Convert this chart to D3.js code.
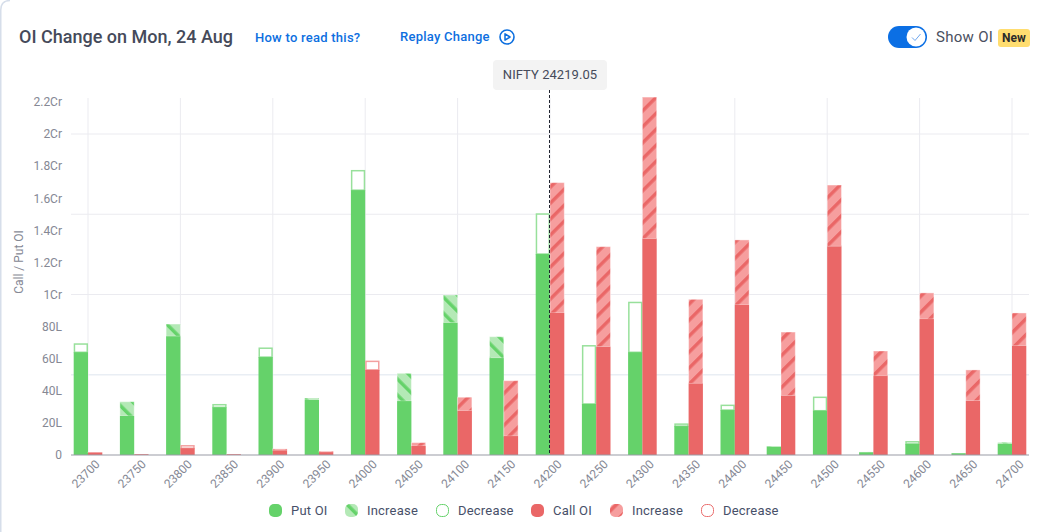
<!DOCTYPE html>
<html><head><meta charset="utf-8">
<script src="https://cdn.jsdelivr.net/npm/d3@7"></script>
<style>
html,body{margin:0;padding:0;background:#fff;overflow:hidden}
svg{display:block}
text{font-family:Roboto,sans-serif}
.ax text{font-family:Roboto,sans-serif}
</style></head><body><div id="c"></div>
<script>
// OI values in lakh
const strikes=[23700,23750,23800,23850,23900,23950,24000,24050,24100,24150,24200,24250,24300,24350,24400,24450,24500,24550,24600,24650,24700];
const putOI  =[64,33.2,81.6,29.7,61,35.5,165,50.9,99.7,73.7,125.2,31.8,64,18,28,5.6,27.6,1.9,6.9,1.2,7.9];
const putPrev=[69.6,24.3,74,31.8,67,34.3,177.6,33.6,82.4,60.4,150.6,68.5,95.5,19.7,31.4,5.1,36.4,1.7,8.7,1.1,7];
const callOI =[1.7,0.6,4.2,0.6,3.8,2.4,53,7.7,36,46.3,169.7,129.8,223,97,134,76.6,168.2,64.8,101,53,88.5];
const callPrev=[1.6,0.5,6.2,0.5,2.9,1.8,58.8,5.6,27.6,11.8,88.5,67.5,134.8,44.6,93.5,37,130,49.2,84.7,33.8,68];
const yTicks=[0,20,40,60,80,100,120,140,160,180,200,220];
const yGrid=[0,50,100,150,200];
const xGrid=[23700,23800,23900,24000,24100,24200,24300,24400,24500,24600,24700];
const legendLabels=["Put OI","Increase","Decrease","Call OI","Increase","Decrease"];
const spot=24219.05;
const title="OI Change on Mon, 24 Aug";

const W=1047,H=532;
const GREEN="#65d26a",LGREEN="#b4e9b6",OGREEN="#98e09b",RED="#ea6767",LRED="#f69e9e",ORED="#f3a0a0";
const INK="#454a5a",BLUE="#0d6fdf",GREY="#858894",GRID="#ebebf0";
const svg=d3.select("#c").append("svg").attr("width",W).attr("height",H);
const defs=svg.append("defs");
function hatch(id,bg,fg,angle){
  const p=defs.append("pattern").attr("id",id).attr("patternUnits","userSpaceOnUse")
    .attr("width",11.3).attr("height",11.3).attr("patternTransform",`rotate(${angle})`);
  p.append("rect").attr("width",11.3).attr("height",11.3).attr("fill",bg);
  p.append("rect").attr("width",3.4).attr("height",11.3).attr("fill",fg);
}
hatch("hg",LGREEN,GREEN,-45);
hatch("hr",LRED,RED,45);

// card edge
svg.append("path").attr("d","M0.75,532 V10 Q0.75,0.5 10,0.5").attr("fill","none").attr("stroke","#d6deea").attr("stroke-width",1.5);

const x=d3.scalePoint().domain(strikes).range([88,1012]);
const y=d3.scaleLinear().domain([0,220]).range([455,101.9]);
const fmt=v=>v===0?"0":v>=100?(v/100)+"Cr":v+"L";
const bw=14.3;

// grid
const g=svg.append("g");
g.selectAll(".vg").data(xGrid).join("line").attr("x1",d=>x(d)).attr("x2",d=>x(d)).attr("y1",98).attr("y2",455).attr("stroke",GRID).attr("stroke-width",1);
g.selectAll(".hg").data(yGrid.slice(1)).join("line").attr("x1",71).attr("x2",1029).attr("y1",d=>y(d)).attr("y2",d=>y(d)).attr("stroke",d=>d===50?"#e9eef4":GRID).attr("stroke-width",d=>d===50?1.6:1);

// bars
function series(cur,prev,side,fill,hatchId,out,cls){
  const data=strikes.map((s,i)=>({s,cur:cur[i],prev:prev[i]}));
  const X=d=>side<0?x(d.s)-bw:x(d.s);
  const gg=svg.append("g").attr("class",cls);
  gg.selectAll(".chg").data(data).join("rect")
    .attr("x",d=>d.cur>=d.prev?X(d):X(d)+0.75)
    .attr("y",d=>y(Math.max(d.cur,d.prev))+(d.cur>=d.prev?0:0.75))
    .attr("width",d=>d.cur>=d.prev?bw:bw-1.5)
    .attr("height",d=>Math.abs(y(d.cur)-y(d.prev))-(d.cur>=d.prev?0:0.75))
    .attr("fill",d=>d.cur>=d.prev?`url(#${hatchId})`:"#fff")
    .attr("stroke",d=>d.cur>=d.prev?"#fff":out)
    .attr("stroke-opacity",d=>d.cur>=d.prev?0.4:1)
    .attr("stroke-width",d=>d.cur>=d.prev?1:1.5);
  gg.selectAll(".sol").data(data).join("rect")
    .attr("x",X).attr("width",bw)
    .attr("y",d=>y(Math.min(d.cur,d.prev)))
    .attr("height",d=>455-y(Math.min(d.cur,d.prev)))
    .attr("fill",fill);
}
series(putOI,putPrev,-1,GREEN,"hg",OGREEN,"put");
series(callOI,callPrev,1,RED,"hr",ORED,"call");

// axes
const ya=d3.axisLeft(y).tickValues(yTicks).tickFormat(fmt).tickSize(0).tickPadding(9);
const yg=svg.append("g").attr("class","ax").attr("transform","translate(71,0)").call(ya);
yg.select(".domain").remove();
yg.selectAll("text").attr("fill",GREY).style("font-size","12px");
const xa=d3.axisBottom(x).tickSize(0);
const xg=svg.append("g").attr("class","ax").attr("transform","translate(0,455)").call(xa);
xg.select(".domain").attr("stroke","#9a9ca6").attr("stroke-width",1.2).attr("d","M71,0H1029");
xg.selectAll("text").attr("fill",GREY).style("font-size","12px").attr("text-anchor","end")
  .attr("x",0).attr("y",0).attr("dy",0).attr("transform","translate(12,10) rotate(-45)");
svg.append("text").attr("transform","translate(23,262) rotate(-90)").attr("text-anchor","middle")
  .attr("fill",GREY).style("font-size","12px").text("Call / Put OI");

// spot line
svg.append("line").attr("x1",549.5).attr("x2",549.5).attr("y1",90).attr("y2",455).attr("stroke","#20242f").attr("stroke-width",1).attr("stroke-dasharray","3,2");
svg.append("rect").attr("x",493).attr("y",60).attr("width",114).attr("height",30).attr("rx",4).attr("fill","#f3f3f3");
svg.append("text").attr("x",550).attr("y",79).attr("text-anchor","middle").attr("fill",INK).style("font-size","13px").style("letter-spacing","0.05px").text("NIFTY "+spot.toFixed(2));

// header
svg.append("text").attr("x",19).attr("y",43).attr("fill",INK).style("font-size","18px").style("font-weight",500).text(title);
svg.append("text").attr("x",255).attr("y",42).attr("fill",BLUE).style("font-size","13px").style("font-weight",500).style("letter-spacing","0.25px").text("How to read this?");
svg.append("text").attr("x",400).attr("y",41).attr("fill",BLUE).style("font-size","13px").style("font-weight",500).style("letter-spacing","0.25px").text("Replay Change");
svg.append("circle").attr("cx",507).attr("cy",37).attr("r",7).attr("fill","none").attr("stroke",BLUE).attr("stroke-width",1.6);
svg.append("path").attr("d","M505,33.8 L510,37 L505,40.2 Z").attr("fill","none").attr("stroke",BLUE).attr("stroke-width",1.5).attr("stroke-linejoin","round");

// toggle
svg.append("rect").attr("x",888).attr("y",26).attr("width",39).attr("height",22).attr("rx",11).attr("fill","#0b6fe4");
svg.append("circle").attr("cx",916).attr("cy",37).attr("r",9.5).attr("fill","#fff");
svg.append("path").attr("d","M912,37.5 L915,40.5 L920.5,34").attr("fill","none").attr("stroke","#6ea6ee").attr("stroke-width",1);
svg.append("text").attr("x",936).attr("y",42).attr("fill","#4a5060").style("font-size","15px").style("letter-spacing","0.3px").text("Show OI");
svg.append("rect").attr("x",998).attr("y",29).attr("width",32).attr("height",18).attr("rx",3).attr("fill","#ffdd70");
svg.append("text").attr("x",1014).attr("y",42).attr("text-anchor","middle").attr("fill","#2b2b2b").style("font-size","12px").style("font-weight",700).text("New");

// legend
const swatchX=[269,345,436,531,610,701];
const textX=[291,367,458,553,632,723];
const swatch=[{f:GREEN},{f:"url(#hg)"},{f:"#fff",s:GREEN},{f:RED},{f:"url(#hr)"},{f:"#fff",s:"#ea6d6d"}];
const lg=svg.append("g");
legendLabels.forEach((t,i)=>{
  const s=swatch[i];
  lg.append("rect").attr("x",swatchX[i]+(s.s?.5:0)).attr("y",504+(s.s?.5:0)).attr("width",s.s?12:13).attr("height",s.s?12:13).attr("rx",5)
    .attr("fill",s.f).attr("stroke",s.s||"none").attr("stroke-width",1);
  lg.append("text").attr("x",textX[i]).attr("y",515).attr("fill","#475069").style("font-size","13px").style("letter-spacing","0.2px").text(t);
});
</script></body></html>
